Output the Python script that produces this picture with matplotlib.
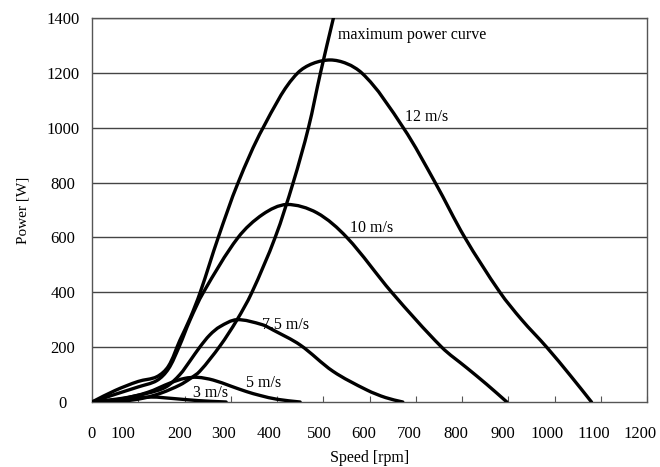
import numpy as np
import matplotlib
matplotlib.use('Agg')
import matplotlib.pyplot as plt
from matplotlib.path import Path
from matplotlib.patches import PathPatch
from matplotlib import transforms

# curves (speed in rpm, power in W)
rpm_12 = [0, 50, 100, 140, 165, 190, 212, 234, 273, 316, 370, 445, 515, 583, 673, 742, 806, 882, 929, 983, 1035, 1080]
pow_12 = [0, 42, 75, 92, 130, 225, 305, 400, 600, 800, 1000, 1200, 1247, 1200, 1000, 800, 600, 400, 300, 200, 95, 0]

rpm_10 = [0, 50, 100, 140, 165, 188, 212, 241, 316, 370, 421, 486, 551, 648, 756, 810, 853, 897]
pow_10 = [0, 28, 55, 78, 120, 200, 299, 400, 600, 685, 720, 690, 600, 400, 200, 125, 65, 0]

rpm_75 = [0, 60, 120, 160, 190, 212, 233, 255, 277, 313, 368, 391, 450, 521, 594, 635, 672]
pow_75 = [0, 12, 32, 55, 100, 150, 200, 245, 275, 300, 282, 263, 208, 112, 44, 16, 0]

rpm_5 = [0, 60, 120, 170, 200, 228, 262, 300, 334, 363, 400, 450]
pow_5 = [0, 10, 35, 70, 86, 90, 80, 58, 38, 24, 10, 0]

rpm_3 = [0, 60, 127, 180, 230, 290]
pow_3 = [0, 9, 18, 12, 5, 0]

rpm_max = [0, 60, 111, 150, 190, 212, 233, 277, 313, 345, 396, 435, 468, 494, 522]
pow_max = [0, 2, 14, 33, 62, 85, 112, 205, 298, 397, 600, 800, 1000, 1200, 1400]

curve_labels = ['maximum power curve', '12 m/s', '10 m/s', '7.5 m/s', '5 m/s', '3 m/s']
label_rpm = [532, 677, 558, 368, 334, 219]
label_pow = [1338, 1040, 634, 281, 70, 32]

xticks = [0, 100, 200, 300, 400, 500, 600, 700, 800, 900, 1000, 1100, 1200]
yticks = [0, 200, 400, 600, 800, 1000, 1200, 1400]


def smooth_path(xs, ys, sx=555/1200, sy=384/1400):
    #bezier path through the points, tangents weighted by chord length on screen
    pts = np.column_stack([np.array(xs)*sx, np.array(ys)*sy]).astype(float)
    n = len(pts)
    d = np.linalg.norm(np.diff(pts, axis=0), axis=1)
    tang = np.zeros_like(pts)
    tang[0] = (pts[1]-pts[0])/d[0]
    tang[-1] = (pts[-1]-pts[-2])/d[-1]
    for i in range(1, n-1):
        tang[i] = (pts[i+1]-pts[i-1])/(d[i-1]+d[i])
    verts = [pts[0]]
    codes = [Path.MOVETO]
    for i in range(n-1):
        verts += [pts[i] + tang[i]*d[i]/3, pts[i+1] - tang[i+1]*d[i]/3, pts[i+1]]
        codes += [Path.CURVE4]*3
    verts = np.array(verts)
    verts[:, 0] /= sx
    verts[:, 1] /= sy
    return Path(verts, codes)


plt.rcParams['font.family'] = ['Liberation Serif', 'DejaVu Serif']

fig = plt.figure(figsize=(6.6, 4.67), dpi=100)
ax = fig.add_axes([92/660, 1-402/467, 555/660, 384/467])

ax.set_xlim(0, 1200)
ax.set_ylim(0, 1400)

#horizontal grid
for v in yticks[1:]:
    ax.axhline(v, color='#444444', lw=1.0, zorder=1)

curves = [(rpm_max, pow_max), (rpm_12, pow_12), (rpm_10, pow_10),
          (rpm_75, pow_75), (rpm_5, pow_5), (rpm_3, pow_3)]
for xs, ys in curves:
    patch = PathPatch(smooth_path(xs, ys), fill=False, edgecolor='black',
                      lw=2.4, capstyle='round', joinstyle='round', zorder=3)
    ax.add_patch(patch)

for t, x, y in zip(curve_labels, label_rpm, label_pow):
    ax.text(x, y, t, fontsize=11.5, ha='left', va='center', zorder=4)

for s in ax.spines.values():
    s.set_color('#555555')
    s.set_linewidth(1.0)

ax.set_xticks(xticks)
ax.set_xticklabels([str(v) for v in xticks])
ax.tick_params(axis='x', direction='in', length=4, color='#555555', pad=17, labelsize=12)
ax.set_yticks(yticks)
ax.set_yticklabels([str(v) for v in yticks])
ax.tick_params(axis='y', length=0, pad=21, labelsize=12)
for lab in ax.get_yticklabels():
    lab.set_horizontalalignment('center')

#the printed x labels sit a bit left of their ticks
shift_px = [0, -15, -5, -7, -8, -4, -6, -6, -6, -5, -7, -7, -7]
for lab, dx in zip(ax.get_xticklabels(), shift_px):
    lab.set_transform(lab.get_transform() + transforms.ScaledTranslation(dx/100, 0, fig.dpi_scale_trans))

ax.set_xlabel('Speed [rpm]', fontsize=11.5, labelpad=6)
ax.set_ylabel('Power [W]', fontsize=11, labelpad=12)

fig.savefig('out.png', dpi=100)
